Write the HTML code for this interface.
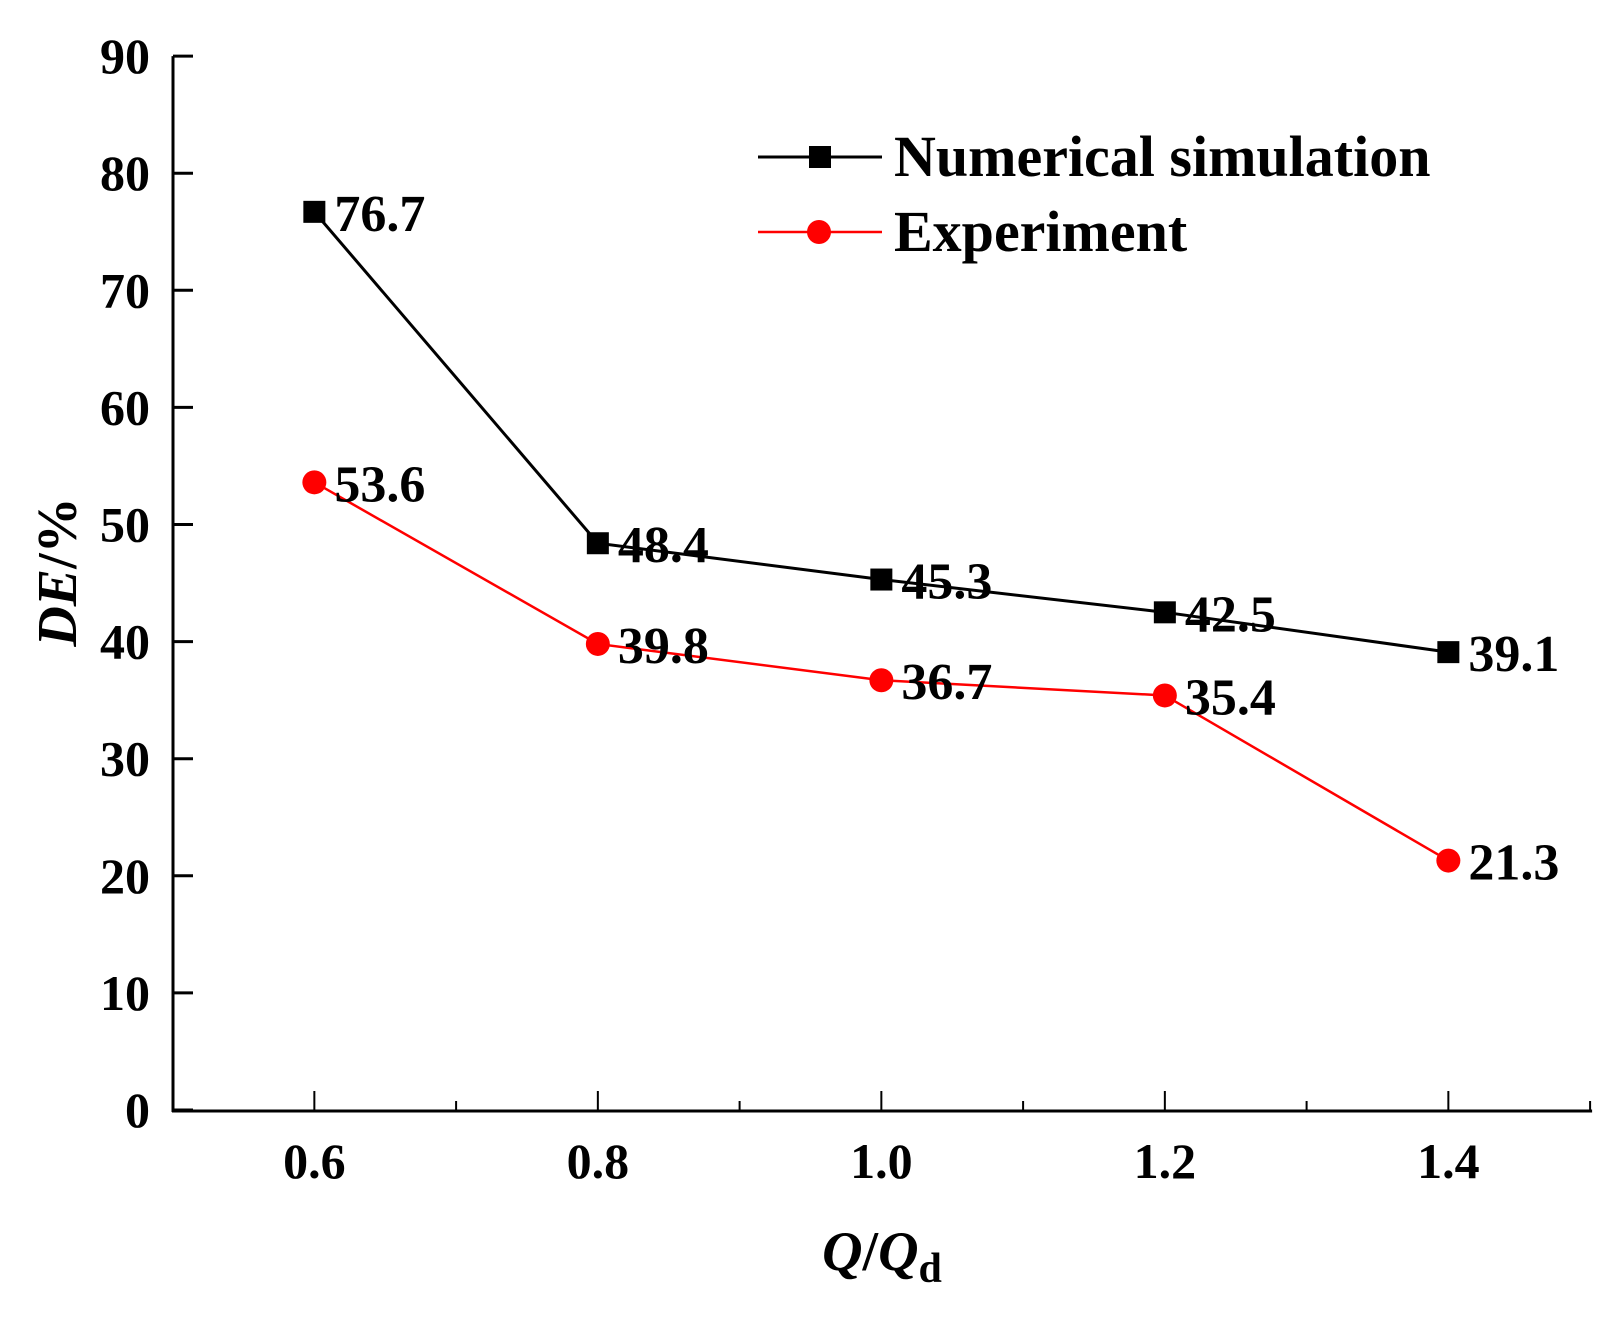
<!DOCTYPE html>
<html><head><meta charset="utf-8"><style>
body{margin:0;background:#fff}
text{font-family:"Liberation Serif",serif;font-weight:bold;fill:#000}
</style></head><body>
<svg id="chart" width="1615" height="1318" viewBox="0 0 1615 1318" xmlns="http://www.w3.org/2000/svg">
<g id="axes"></g><g id="series"></g>
<g>
 <line x1="758" y1="157" x2="882" y2="157" stroke="#000" stroke-width="3"/>
 <rect x="809" y="146" width="22" height="22" fill="#000"/>
 <text x="894" y="176" font-size="58">Numerical simulation</text>
 <line x1="758" y1="232" x2="882" y2="232" stroke="#f00" stroke-width="2.5"/>
 <circle cx="819" cy="232" r="12" fill="#f00"/>
 <text x="894" y="251" font-size="58">Experiment</text>
</g>
<text transform="translate(76,572) rotate(-90)" text-anchor="middle" font-size="56"><tspan font-style="italic">DE</tspan>/%</text>
<text x="882" y="1270" text-anchor="middle" font-size="56"><tspan font-style="italic">Q</tspan>/<tspan font-style="italic">Q</tspan><tspan font-size="42" dy="12">d</tspan></text>
</svg>
<script>
const categories=[0.6,0.8,1.0,1.2,1.4];
const simValues=[76.7,48.4,45.3,42.5,39.1];
const expValues=[53.6,39.8,36.7,35.4,21.3];
const yTicks=[0,10,20,30,40,50,60,70,80,90];
const xTicks=[0.6,0.8,1.0,1.2,1.4];
const xMinor=[0.7,0.9,1.1,1.3,1.5];
const NS='http://www.w3.org/2000/svg';
const X=v=>172.6+(v-0.5)*1417.5;
const Y=v=>1110-v*11.71;
function mk(t,a,p){const e=document.createElementNS(NS,t);for(const k in a)e.setAttribute(k,a[k]);p.appendChild(e);return e;}
const ax=document.getElementById('axes'),se=document.getElementById('series');
let l=mk('line',{x1:173,y1:Y(90),x2:173,y2:1112,stroke:'#000','stroke-width':3},ax);


l=mk('line',{x1:172,y1:1111,x2:X(1.5)+2,y2:1111,stroke:'#000','stroke-width':3},ax);


yTicks.forEach(v=>{
 mk('line',{x1:173,y1:Y(v),x2:193,y2:Y(v),stroke:'#000','stroke-width':3},ax);
 const t=mk('text',{x:150,y:Y(v)+17,'text-anchor':'end','font-size':50},ax);t.textContent=v;
 
 
});
xTicks.forEach(v=>{
 mk('line',{x1:X(v),y1:1111,x2:X(v),y2:1091,stroke:'#000','stroke-width':2},ax);
 const t=mk('text',{x:X(v),y:1178,'text-anchor':'middle','font-size':50},ax);t.textContent=v.toFixed(1);
 
 
});
xMinor.forEach(v=>mk('line',{x1:X(v),y1:1111,x2:X(v),y2:1101,stroke:'#000','stroke-width':2},ax));
function series(vals,color,shape,name){
 const p=mk('polyline',{points:vals.map((v,i)=>X(categories[i])+','+Y(v)).join(' '),fill:'none',stroke:color,'stroke-width':shape==='sq'?3:2.5},se);
 
 
 vals.forEach((v,i)=>{
  const x=X(categories[i]),y=Y(v);let m;
  if(shape==='sq')m=mk('rect',{x:x-11,y:y-11,width:22,height:22,fill:color},se);
  else m=mk('circle',{cx:x,cy:y,r:12,fill:color},se);
  
  
  const t=mk('text',{x:x+20,y:y+19,'font-size':52},se);t.textContent=v.toFixed(1);
  
  
 });
}
series(simValues,'#000','sq','simulation');
series(expValues,'#f00','ci','experiment');
</script>
</body></html>
